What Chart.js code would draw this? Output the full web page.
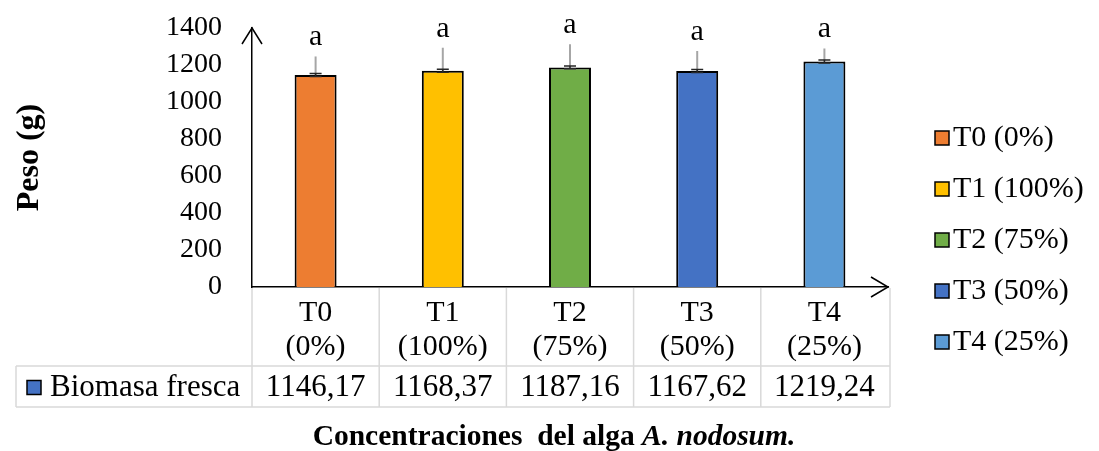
<!DOCTYPE html>
<html>
<head>
<meta charset="utf-8">
<script src="https://cdn.jsdelivr.net/npm/chart.js@4"></script>
<style>
  html, body { margin: 0; padding: 0; background: #fff; }
  #wrap { width: 1099px; height: 451px; }
</style>
</head>
<body>
<div id="wrap"><canvas id="biomasaChart"></canvas></div>
<script>
// datos
const categories = [["T0", "(0%)"], ["T1", "(100%)"], ["T2", "(75%)"], ["T3", "(50%)"], ["T4", "(25%)"]];
const legendLabels = ["T0 (0%)", "T1 (100%)", "T2 (75%)", "T3 (50%)", "T4 (25%)"];
const biomasa = [1146.17, 1168.37, 1187.16, 1167.62, 1219.24];
const errUp = [100, 125, 125, 108, 70];   // barra gris hacia arriba
const errSE = [8, 8, 8, 8, 8];           // barra negra pequena
const letters = ["a", "a", "a", "a", "a"];
const yTicks = [0, 200, 400, 600, 800, 1000, 1200, 1400];
const seriesName = "Biomasa fresca";
const barColors = ["#ED7D31", "#FFC000", "#70AD47", "#4472C4", "#5B9BD5"];

const FONT = "'Liberation Serif', 'Times New Roman', serif";
const HEAD_H = 79;   // fila de encabezado de la tabla
const ROW_H = 41;    // fila de datos
const TABLE_LEFT = 16;

const fmt = v => v.toFixed(2).replace('.', ',');

const extrasPlugin = {
    id: 'extras',
    afterDatasetsDraw(chart) {
        const { ctx, scales: { x, y } } = chart;
        ctx.save();
        biomasa.forEach((v, i) => {
            const xp = x.getPixelForValue(i);
            const y0 = y.getPixelForValue(v);
            const yTop = y.getPixelForValue(v + errUp[i]);
            // gris
            ctx.strokeStyle = '#A6A6A6';
            ctx.lineWidth = 2;
            ctx.beginPath();
            ctx.moveTo(xp, y0);
            ctx.lineTo(xp, yTop);
            ctx.stroke();
            // error estandar
            const a = y.getPixelForValue(v + errSE[i]);
            const b = y.getPixelForValue(v - errSE[i]);
            ctx.strokeStyle = '#262626';
            ctx.lineWidth = 1.5;
            ctx.beginPath();
            ctx.moveTo(xp, a); ctx.lineTo(xp, b);
            ctx.moveTo(xp - 6, a); ctx.lineTo(xp + 6, a);
            ctx.moveTo(xp - 6, b); ctx.lineTo(xp + 6, b);
            ctx.stroke();
            // letra
            ctx.fillStyle = '#000';
            ctx.font = `30px ${FONT}`;
            ctx.textAlign = 'center';
            ctx.textBaseline = 'alphabetic';
            ctx.fillText(letters[i], xp, yTop - 11);
        });
        ctx.restore();
    },
    afterDraw(chart) {
        const { ctx, chartArea, scales: { x } } = chart;
        const n = biomasa.length;
        const half = (x.getPixelForValue(1) - x.getPixelForValue(0)) / 2;
        const right = x.getPixelForValue(n - 1) + half;
        const headBottom = chartArea.bottom + HEAD_H;
        const rowBottom = headBottom + ROW_H;

        ctx.save();
        // rejilla de la tabla
        ctx.strokeStyle = '#D9D9D9';
        ctx.lineWidth = 1.5;
        ctx.beginPath();
        for (let i = 0; i < n; i++) {
            const xb = x.getPixelForValue(i) - half;
            ctx.moveTo(xb, chartArea.bottom + 1);
            ctx.lineTo(xb, rowBottom);
        }
        ctx.moveTo(right + 2, chartArea.bottom + 1);
        ctx.lineTo(right + 2, rowBottom);
        ctx.moveTo(TABLE_LEFT, headBottom); ctx.lineTo(right + 2, headBottom);
        ctx.moveTo(TABLE_LEFT, rowBottom); ctx.lineTo(right + 2, rowBottom);
        ctx.moveTo(TABLE_LEFT, headBottom); ctx.lineTo(TABLE_LEFT, rowBottom);
        ctx.stroke();

        // fila de datos
        const rowMid = headBottom + ROW_H / 2 + 1;
        ctx.fillStyle = '#000';
        ctx.font = `31px ${FONT}`;
        ctx.textBaseline = 'middle';
        ctx.textAlign = 'center';
        biomasa.forEach((v, i) => ctx.fillText(fmt(v), x.getPixelForValue(i), rowMid));

        // clave de la serie
        ctx.fillStyle = '#4472C4';
        ctx.fillRect(27, rowMid - 7, 14, 14);
        ctx.strokeStyle = '#000';
        ctx.lineWidth = 1.5;
        ctx.strokeRect(27, rowMid - 7, 14, 14);
        ctx.fillStyle = '#000';
        ctx.textAlign = 'left';
        ctx.fillText(seriesName, 50, rowMid);

        // leyenda
        ctx.font = `30px ${FONT}`;
        legendLabels.forEach((t, i) => {
            const ly = 138 + i * 51;
            ctx.fillStyle = barColors[i];
            ctx.fillRect(935, ly - 7, 14, 14);
            ctx.strokeStyle = '#000';
            ctx.strokeRect(935, ly - 7, 14, 14);
            ctx.fillStyle = '#000';
            ctx.fillText(t, 953, ly);
        });

        // flechas de los ejes
        ctx.strokeStyle = '#000';
        ctx.lineWidth = 1.5;
        ctx.beginPath();
        ctx.moveTo(chartArea.left - 10, chartArea.top + 16);
        ctx.lineTo(chartArea.left, chartArea.top);
        ctx.lineTo(chartArea.left + 10, chartArea.top + 16);
        ctx.moveTo(chartArea.right - 17, chartArea.bottom - 10);
        ctx.lineTo(chartArea.right, chartArea.bottom);
        ctx.lineTo(chartArea.right - 17, chartArea.bottom + 10);
        ctx.stroke();

        // titulo del eje x (negrita + cursiva)
        const part1 = 'Concentraciones  del alga ';
        const part2 = 'A. nodosum.';
        const f1 = `bold 29.5px ${FONT}`;
        const f2 = `italic bold 29.5px ${FONT}`;
        ctx.font = f1; const w1 = ctx.measureText(part1).width;
        ctx.font = f2; const w2 = ctx.measureText(part2).width;
        const cx = (chartArea.left + chartArea.right) / 2 - 16;
        const ty = rowBottom + 30;
        let tx = cx - (w1 + w2) / 2;
        ctx.textAlign = 'left';
        ctx.textBaseline = 'middle';
        ctx.font = f1; ctx.fillText(part1, tx, ty);
        ctx.font = f2; ctx.fillText(part2, tx + w1, ty);
        ctx.restore();
    }
};

const ctx = document.getElementById('biomasaChart').getContext('2d');

new Chart(ctx, {
    type: 'bar',
    data: {
        labels: categories,
        datasets: [{
            label: seriesName,
            data: biomasa,
            backgroundColor: barColors,
            borderColor: '#000',
            borderWidth: 2,
            barPercentage: 0.33,
            categoryPercentage: 1
        }]
    },
    options: {
        responsive: true,
        maintainAspectRatio: false,
        animation: false,
        layout: { padding: { top: 28, right: 211, bottom: 0, left: 0 } },
        scales: {
            x: {
                grid: { display: false, drawTicks: false },
                border: { color: '#000', width: 1.5 },
                ticks: {
                    color: '#000',
                    font: { family: FONT, size: 30, lineHeight: 1.13 },
                    padding: 9,
                    maxRotation: 0
                },
                afterFit: s => { s.height = 164; }
            },
            y: {
                min: 0,
                max: 1400,
                grid: { display: false, drawTicks: false },
                border: { color: '#000', width: 1.5 },
                ticks: {
                    color: '#000',
                    font: { family: FONT, size: 28 },
                    padding: 30,
                    autoSkip: false,
                    callback: v => String(v)
                },
                afterBuildTicks: s => { s.ticks = yTicks.map(v => ({ value: v })); },
                title: {
                    display: true,
                    text: 'Peso (g)',
                    color: '#000',
                    font: { family: FONT, size: 32, weight: 'bold' },
                    padding: { top: 11, bottom: 0 }
                },
                afterFit: s => { s.width = 252; s.paddingTop = 17; }
            }
        },
        plugins: {
            tooltip: { enabled: false },
            legend: { display: false }
        }
    },
    plugins: [extrasPlugin]
});
</script>
</body>
</html>
